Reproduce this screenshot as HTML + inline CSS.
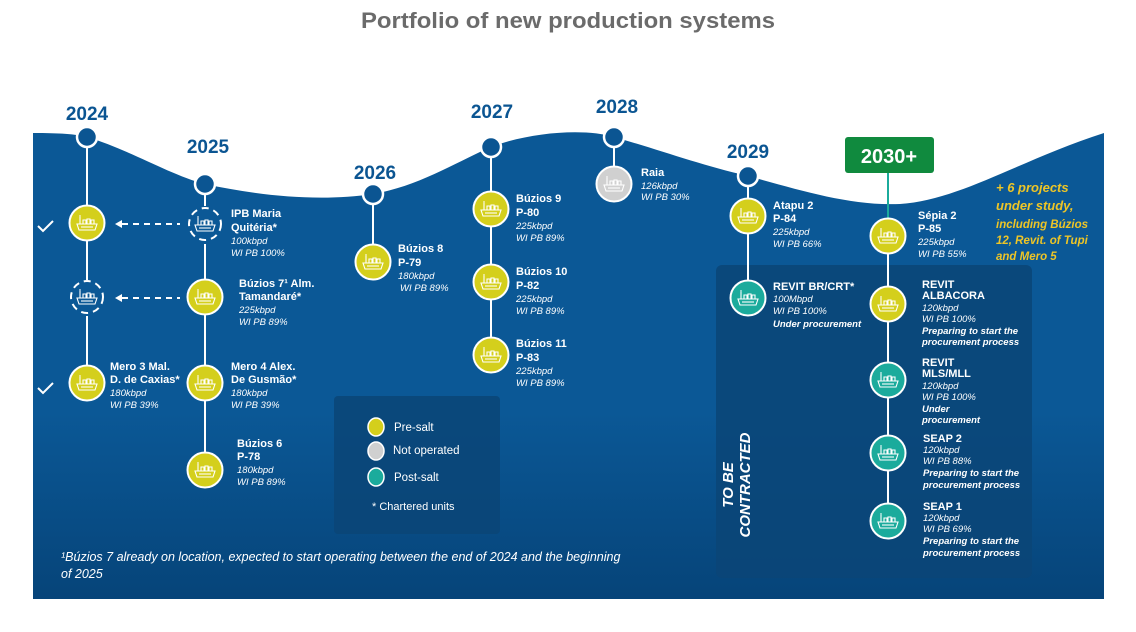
<!DOCTYPE html>
<html><head><meta charset="utf-8"><style>
html,body{margin:0;padding:0;background:#fff;width:1136px;height:632px;overflow:hidden}
svg{display:block;font-family:"Liberation Sans",sans-serif}
.b{font-weight:bold;fill:#fff;font-size:11px}
.i{font-style:italic;fill:#fff;font-size:9.5px}
.bi{font-style:italic;font-weight:bold;fill:#fff;font-size:9.5px}
.yr{font-weight:bold;fill:#0b5592;font-size:19px;text-anchor:middle}
</style></head><body>
<svg width="1136" height="632" viewBox="0 0 1136 632">
<defs>
<linearGradient id="g" x1="0" y1="0" x2="0" y2="1">
<stop offset="0" stop-color="#0b5896"/><stop offset="0.6" stop-color="#0b5896"/><stop offset="1" stop-color="#064479"/>
</linearGradient>
<g id="ic" fill="none" stroke="#fff" stroke-width="1.1">
<path d="M-10,1 L10,1 L8,7 L-8,7 Z"/><path d="M-6,4 L6,4"/>
<path d="M-7,1 V-6 M-8,-7 h2 M-4,1 V-3 H-1 V1 M0,1 V-4 H3 V1 M4,1 V-3 H7 V1"/>
</g>
<g id="yel"><circle r="17.5" fill="#d4cf1c" stroke="#fff" stroke-width="2"/><use href="#ic"/></g>
<g id="tea"><circle r="17.5" fill="#1bab9c" stroke="#fff" stroke-width="2"/><use href="#ic"/></g>
<g id="gry"><circle r="17.5" fill="#d0d0d0" stroke="#fff" stroke-width="2"/><g stroke="#888"><use href="#ic" style="stroke:#888"/></g></g>
<g id="dsh"><circle r="16" fill="none" stroke="#fff" stroke-width="2" stroke-dasharray="7 5"/><use href="#ic"/></g>
<g id="nd"><circle r="10" fill="#0b5592" stroke="#fff" stroke-width="2.5"/></g>
</defs>
<text x="568" y="28" text-anchor="middle" font-weight="bold" font-size="22" fill="#6b6b6b" textLength="414" lengthAdjust="spacingAndGlyphs">Portfolio of new production systems</text>

<path d="M33,133 C60,133 75,134 87,137 C130,150 170,175 205,184 C260,196 320,202 373,194 C420,186 460,160 491,147 C530,132 585,128 614,137 C660,150 700,165 748,176 C800,190 850,206 900,204 C960,200 1020,160 1104,133 L1104,599 L33,599 Z" fill="url(#g)"/>

<rect x="716" y="265" width="316" height="313" rx="6" fill="#0a4577" opacity="0.85"/>
<rect x="334" y="396" width="166" height="138" rx="4" fill="#0a4577" opacity="0.85"/>

<!-- year labels -->
<text class="yr" x="87" y="120">2024</text>
<text class="yr" x="208" y="153">2025</text>
<text class="yr" x="375" y="179">2026</text>
<text class="yr" x="492" y="118">2027</text>
<text class="yr" x="617" y="113">2028</text>
<text class="yr" x="748" y="158">2029</text>
<rect x="845" y="137" width="89" height="36" rx="3" fill="#108a3e"/>
<text x="889" y="163" text-anchor="middle" font-weight="bold" font-size="20" fill="#fff">2030+</text>

<!-- lines -->
<g stroke="#fff" stroke-width="2">
<line x1="87" y1="137" x2="87" y2="383"/>
<line x1="205" y1="184" x2="205" y2="470"/>
<line x1="373" y1="194" x2="373" y2="262"/>
<line x1="491" y1="147" x2="491" y2="355"/>
<line x1="614" y1="137" x2="614" y2="184"/>
<line x1="748" y1="176" x2="748" y2="298"/>
</g>
<line x1="888" y1="173" x2="888" y2="236" stroke="#1bab9c" stroke-width="2"/>
<line x1="888" y1="236" x2="888" y2="521" stroke="#fff" stroke-width="2"/>
<g stroke="#fff" stroke-width="2" stroke-dasharray="6 5">
<line x1="122" y1="224" x2="180" y2="224"/><line x1="122" y1="298" x2="180" y2="298"/>
</g>
<path d="M115,224 l7,-4 v8 z M115,298 l7,-4 v8 z" fill="#fff"/>
<path d="M38,226 l5,5 l10,-10 M38,388 l5,5 l10,-10" fill="none" stroke="#fff" stroke-width="2"/>

<!-- nodes -->
<use href="#nd" x="87" y="137"/><use href="#nd" x="205" y="184"/><use href="#nd" x="373" y="194"/>
<use href="#nd" x="491" y="147"/><use href="#nd" x="614" y="137"/><use href="#nd" x="748" y="176"/>
<rect x="60" y="280" width="54" height="36" fill="#0b5896"/>
<rect x="180" y="206" width="50" height="38" fill="#0b5896"/>
<use href="#yel" x="87" y="223"/><use href="#dsh" x="87" y="297"/><use href="#yel" x="87" y="383"/>
<use href="#dsh" x="205" y="224"/><use href="#yel" x="205" y="297"/><use href="#yel" x="205" y="383"/><use href="#yel" x="205" y="470"/>
<use href="#yel" x="373" y="262"/>
<use href="#yel" x="491" y="209"/><use href="#yel" x="491" y="282"/><use href="#yel" x="491" y="355"/>
<use href="#gry" x="614" y="184"/>
<use href="#yel" x="748" y="216"/><use href="#tea" x="748" y="298"/>
<use href="#yel" x="888" y="236"/><use href="#yel" x="888" y="304"/><use href="#tea" x="888" y="380"/><use href="#tea" x="888" y="453"/><use href="#tea" x="888" y="521"/>

<!-- texts -->
<text class="b" x="231" y="217">IPB Maria</text><text class="b" x="231" y="231">Quitéria*</text>
<text class="i" x="231" y="244">100kbpd</text><text class="i" x="231" y="256">WI PB 100%</text>
<text class="b" x="239" y="287">Búzios 7¹ Alm.</text><text class="b" x="239" y="300">Tamandaré*</text>
<text class="i" x="239" y="313">225kbpd</text><text class="i" x="239" y="325">WI PB 89%</text>
<text class="b" x="110" y="370">Mero 3 Mal.</text><text class="b" x="110" y="383">D. de Caxias*</text>
<text class="i" x="110" y="396">180kbpd</text><text class="i" x="110" y="408">WI PB 39%</text>
<text class="b" x="231" y="370">Mero 4  Alex.</text><text class="b" x="231" y="383">De Gusmão*</text>
<text class="i" x="231" y="396">180kbpd</text><text class="i" x="231" y="408">WI PB 39%</text>
<text class="b" x="237" y="447">Búzios 6</text><text class="b" x="237" y="460">P-78</text>
<text class="i" x="237" y="473">180kbpd</text><text class="i" x="237" y="485">WI PB 89%</text>
<text class="b" x="398" y="252">Búzios 8</text><text class="b" x="398" y="266">P-79</text>
<text class="i" x="398" y="279">180kbpd</text><text class="i" x="400" y="291">WI PB 89%</text>
<text class="b" x="516" y="202">Búzios 9</text><text class="b" x="516" y="216">P-80</text>
<text class="i" x="516" y="229">225kbpd</text><text class="i" x="516" y="241">WI PB 89%</text>
<text class="b" x="516" y="275">Búzios 10</text><text class="b" x="516" y="289">P-82</text>
<text class="i" x="516" y="302">225kbpd</text><text class="i" x="516" y="314">WI PB 89%</text>
<text class="b" x="516" y="347">Búzios 11</text><text class="b" x="516" y="361">P-83</text>
<text class="i" x="516" y="374">225kbpd</text><text class="i" x="516" y="386">WI PB 89%</text>
<text class="b" x="641" y="176">Raia</text>
<text class="i" x="641" y="189">126kbpd</text><text class="i" x="641" y="200">WI PB 30%</text>
<text class="b" x="773" y="209">Atapu 2</text><text class="b" x="773" y="222">P-84</text>
<text class="i" x="773" y="235">225kbpd</text><text class="i" x="773" y="247">WI PB 66%</text>
<text class="b" x="773" y="290">REVIT BR/CRT*</text>
<text class="i" x="773" y="302">100Mbpd</text><text class="i" x="773" y="314">WI PB 100%</text><text class="bi" x="773" y="327">Under procurement</text>
<text class="b" x="918" y="219">Sépia 2</text><text class="b" x="918" y="232">P-85</text>
<text class="i" x="918" y="245">225kbpd</text><text class="i" x="918" y="257">WI PB 55%</text>
<text class="b" x="922" y="288">REVIT</text><text class="b" x="922" y="299">ALBACORA</text>
<text class="i" x="922" y="311">120kbpd</text><text class="i" x="922" y="322">WI PB 100%</text>
<text class="bi" x="922" y="334">Preparing to start the</text><text class="bi" x="922" y="345">procurement process</text>
<text class="b" x="922" y="366">REVIT</text><text class="b" x="922" y="377">MLS/MLL</text>
<text class="i" x="922" y="389">120kbpd</text><text class="i" x="922" y="400">WI PB 100%</text>
<text class="bi" x="922" y="412">Under</text><text class="bi" x="922" y="423">procurement</text>
<text class="b" x="923" y="442">SEAP 2</text>
<text class="i" x="923" y="453">120kbpd</text><text class="i" x="923" y="464">WI PB 88%</text>
<text class="bi" x="923" y="476">Preparing to start the</text><text class="bi" x="923" y="488">procurement process</text>
<text class="b" x="923" y="510">SEAP 1</text>
<text class="i" x="923" y="521">120kbpd</text><text class="i" x="923" y="532">WI PB 69%</text>
<text class="bi" x="923" y="544">Preparing to start the</text><text class="bi" x="923" y="556">procurement process</text>

<g transform="translate(733,485) rotate(-90)" font-weight="bold" font-style="italic" font-size="15" fill="#fff" text-anchor="middle">
<text x="0" y="0">TO BE</text><text x="0" y="17">CONTRACTED</text></g>

<g font-weight="bold" font-style="italic" fill="#eec526">
<text x="996" y="192" font-size="13">+ 6 projects</text>
<text x="996" y="210" font-size="13">under study,</text>
<text x="996" y="228" font-size="11.5">including Búzios</text>
<text x="996" y="244" font-size="11.5">12, Revit. of Tupi</text>
<text x="996" y="260" font-size="11.5">and Mero 5</text>
</g>

<!-- legend -->
<ellipse cx="376" cy="427" rx="8" ry="9" fill="#d4cf1c" stroke="#fff" stroke-width="1.5"/>
<ellipse cx="376" cy="451" rx="8" ry="9" fill="#d0d0d0" stroke="#fff" stroke-width="1.5"/>
<ellipse cx="376" cy="477" rx="8" ry="9" fill="#1bab9c" stroke="#fff" stroke-width="1.5"/>
<g fill="#fff" font-size="11.5">
<text x="394" y="431">Pre-salt</text><text x="393" y="454">Not operated</text><text x="394" y="481">Post-salt</text>
<text x="372" y="510" font-size="11">* Chartered units</text></g>
<g fill="#fff" font-size="12.5" font-style="italic">
<text x="61" y="561">¹Búzios 7 already on location, expected to start operating between the end of 2024 and the beginning</text>
<text x="61" y="578">of 2025</text></g>
</svg>
</body></html>
